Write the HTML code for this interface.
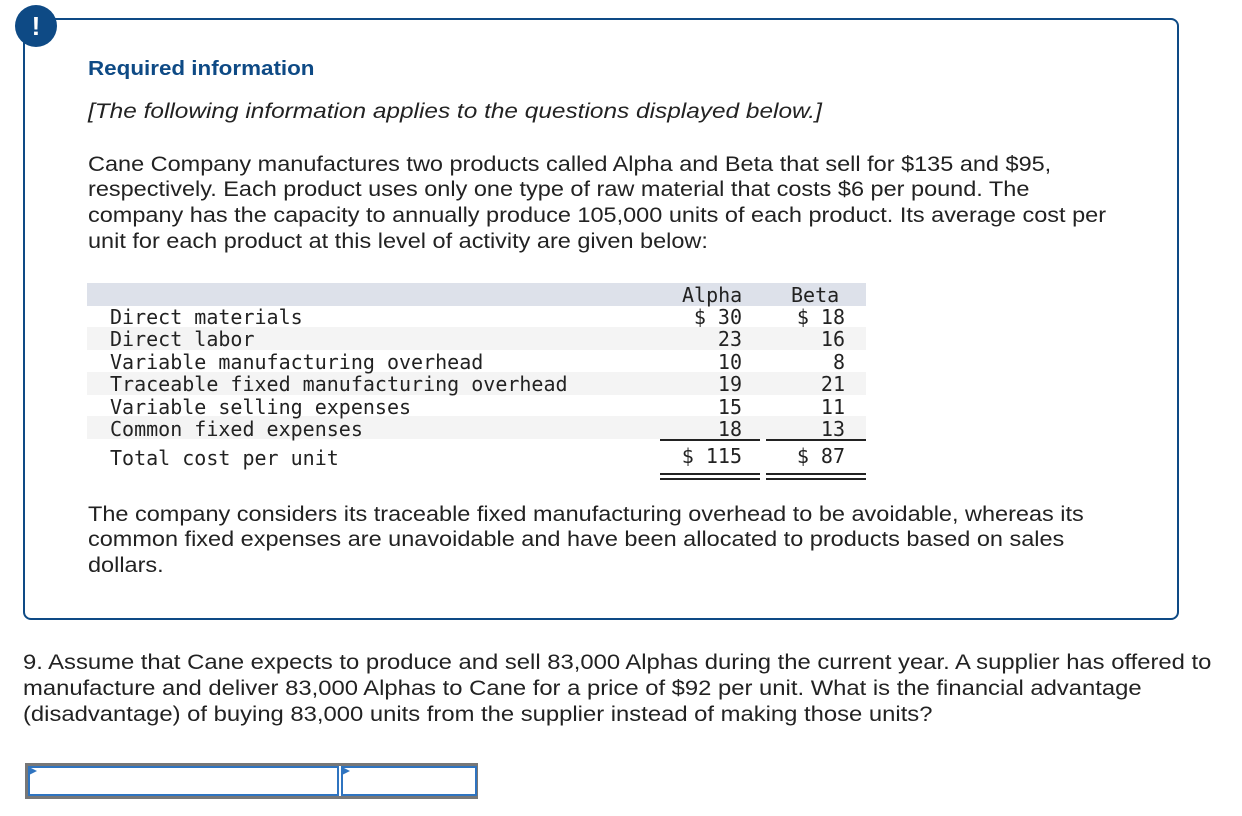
<!DOCTYPE html>
<html><head><meta charset="utf-8">
<style>
body{margin:0;width:1242px;height:816px;background:#fff;position:relative;font-family:"Liberation Sans",sans-serif;color:#222;overflow:hidden}
.box{position:absolute;left:23px;top:18px;width:1152px;height:598px;border:2px solid #0e4a85;border-radius:8px}
.icon{position:absolute;left:15px;top:5px;width:42px;height:42px;border-radius:50%;background:#0e4a85;color:#fff;font-weight:bold;font-size:26px;text-align:center;line-height:42px}
.abs{position:absolute;white-space:nowrap}
.t{font-size:21px;transform:scaleX(1.118);transform-origin:0 0}
.mono{font-family:"DejaVu Sans Mono",monospace;font-size:20px;color:#222}
.row{position:absolute;left:87px;width:779px;height:22.5px}
.num{position:absolute;text-align:right;width:100px}
</style></head><body>
<div class="box"></div>
<div class="icon">!</div>
<div class="abs" style="left:88px;top:58px;font-size:20px;font-weight:bold;color:#0e4a85;transform:scaleX(1.12);transform-origin:0 0">Required information</div>
<div class="abs" style="left:88px;top:100px;font-size:21px;font-style:italic;transform:scaleX(1.162);transform-origin:0 0">[The following information applies to the questions displayed below.]</div>
<div>
<div class="abs t" style="left:88px;top:153px">Cane Company manufactures two products called Alpha and Beta that sell for $135 and $95,</div>
<div class="abs t" style="left:88px;top:178px">respectively. Each product uses only one type of raw material that costs $6 per pound. The</div>
<div class="abs t" style="left:88px;top:204px">company has the capacity to annually produce 105,000 units of each product. Its average cost per</div>
<div class="abs t" style="left:88px;top:230px">unit for each product at this level of activity are given below:</div>
</div>
<div>
<div class="row" style="top:283px;background:#dde1ea"></div>
<div class="row" style="top:327px;background:#f4f4f4"></div>
<div class="row" style="top:372px;background:#f4f4f4"></div>
<div class="row" style="top:416px;background:#f4f4f4"></div>
<div class="abs mono" style="left:682px;top:283px">Alpha</div>
<div class="abs mono" style="left:791px;top:283px">Beta</div>
<div id="rows"></div>
<div class="abs" style="left:660px;top:439px;width:100px;border-top:2px solid #222"></div>
<div class="abs" style="left:766px;top:439px;width:100px;border-top:2px solid #222"></div>
<div class="abs" style="left:660px;top:473px;width:100px;height:3px;border-top:2px solid #222;border-bottom:2px solid #222"></div>
<div class="abs" style="left:766px;top:473px;width:100px;height:3px;border-top:2px solid #222;border-bottom:2px solid #222"></div>
</div>
<div>
<div class="abs t" style="left:88px;top:503px">The company considers its traceable fixed manufacturing overhead to be avoidable, whereas its</div>
<div class="abs t" style="left:88px;top:528px">common fixed expenses are unavoidable and have been allocated to products based on sales</div>
<div class="abs t" style="left:88px;top:554px">dollars.</div>
</div>
<div>
<div class="abs t" style="left:23px;top:651px;transform:scaleX(1.134)">9. Assume that Cane expects to produce and sell 83,000 Alphas during the current year. A supplier has offered to</div>
<div class="abs t" style="left:23px;top:677px;transform:scaleX(1.134)">manufacture and deliver 83,000 Alphas to Cane for a price of $92 per unit. What is the financial advantage</div>
<div class="abs t" style="left:23px;top:703px;transform:scaleX(1.134)">(disadvantage) of buying 83,000 units from the supplier instead of making those units?</div>
</div>
<div class="abs" style="left:25px;top:763px;width:447px;height:30px;border:3px solid #777"></div>
<div class="abs" style="left:28px;top:766px;width:307px;height:26px;border:2px solid #2f74c0"></div>
<div class="abs" style="left:341px;top:766px;width:132px;height:26px;border:2px solid #2f74c0"></div>
<div class="abs" style="left:29px;top:767px;width:0;height:0;border-left:8px solid #2f74c0;border-top:4px solid transparent;border-bottom:4px solid transparent"></div>
<div class="abs" style="left:342px;top:767px;width:0;height:0;border-left:8px solid #2f74c0;border-top:4px solid transparent;border-bottom:4px solid transparent"></div>
<script>
const labels=["Direct materials","Direct labor","Variable manufacturing overhead","Traceable fixed manufacturing overhead","Variable selling expenses","Common fixed expenses"];
const alpha=["$ 30","23","10","19","15","18"];
const beta=["$ 18","16","8","21","11","13"];
const totals=["$ 115","$ 87"];
const host=document.getElementById('rows');
function add(text,left,top,right){
  const d=document.createElement('div');
  d.className='abs mono'+(right?' num':'');
  d.style.left=left+'px';d.style.top=top+'px';
  d.textContent=text;
  
  
  host.appendChild(d);
}
labels.forEach((l,i)=>{
  const y=305+i*22.4;
  add(l,110,y,false);
  add(alpha[i],642,y,true);
  add(beta[i],745,y,true);
});
add("Total cost per unit",110,446,false);
add(totals[0],642,444,true);
add(totals[1],745,444,true);
</script>
</body></html>
